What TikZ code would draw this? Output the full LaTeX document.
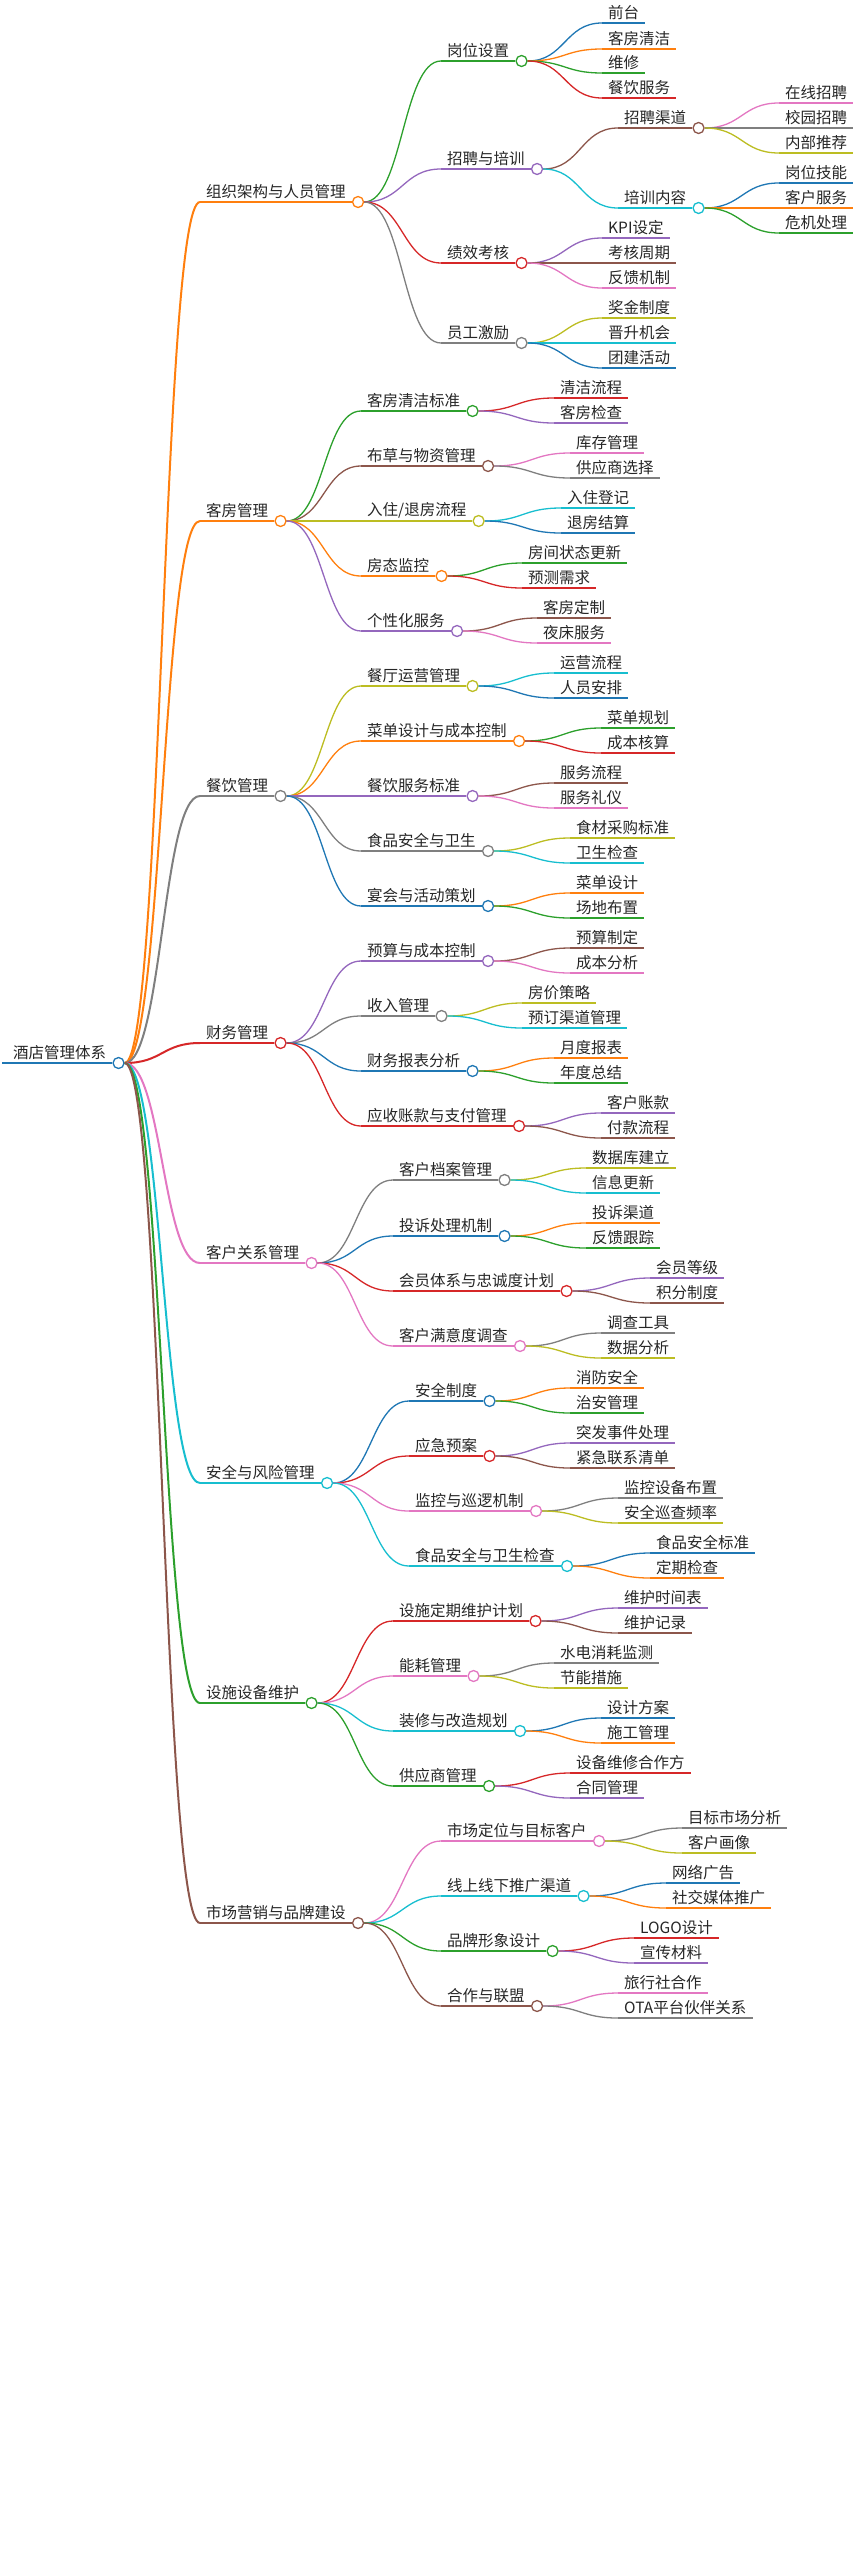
\documentclass[tikz,border=0pt]{standalone}
\usepackage{fontspec}
\newfontfamily\cjk{Noto Sans CJK SC}
\usetikzlibrary{calc,positioning}
\definecolor{mmblue}{HTML}{1F77B4}
\definecolor{mmorange}{HTML}{FF7F0E}
\definecolor{mmgreen}{HTML}{2CA02C}
\definecolor{mmred}{HTML}{D62728}
\definecolor{mmpurple}{HTML}{9467BD}
\definecolor{mmbrown}{HTML}{8C564B}
\definecolor{mmpink}{HTML}{E377C2}
\definecolor{mmgray}{HTML}{7F7F7F}
\definecolor{mmolive}{HTML}{BCBD22}
\definecolor{mmcyan}{HTML}{17BECF}
\tikzset{
  lbl/.style={anchor=south west, inner xsep=6pt, inner ysep=3pt, text=black!85, font=\cjk\fontsize{15.5}{18}\selectfont},
  knob/.style={circle, draw, fill=white, minimum size=11pt, inner sep=0pt, line width=1.3pt},
  edge/.style={line width=1.3pt}
}
% #1 name, #2 parent, #3 text x, #4 y, #5 colour, #6 text
\newcommand{\mmcurve}[4]{%
  \coordinate (mid) at ($(#1c.east)!0.5!(#2.south west)$);
  \draw[#3, #4] (#1c.east) .. controls (mid |- #1c.east) and (mid |- #2.south west) .. (#2.south west);}
\newcommand{\leaf}[6]{%
  \node[lbl] (#1) at (#3-6,#4) {#6};
  \draw[#5, edge] (#1.south west) -- (#1.south east);
  \mmcurve{#2}{#1}{#5}{edge}}
\newcommand{\branch}[6]{%
  \node[lbl] (#1) at (#3-6,#4) {#6};
  \draw[#5, edge] (#1.south west) -- (#1.south east);
  \node[knob, draw=#5, right=0pt of #1.south east, anchor=west] (#1c) {};
  \mmcurve{#2}{#1}{#5}{edge}}
\begin{document}
\begin{tikzpicture}[x=1pt,y=-1pt]
\useasboundingbox (0,0) rectangle (864,2564);
% root
\node[lbl] (root) at (7,1063) {酒店管理体系};
\draw[mmblue, line width=2.6pt] (2,1063) -- (root.south east);
\node[knob, draw=mmblue, right=0pt of root.south east, anchor=west] (rootc) {};
\begin{scope}[edge/.style={line width=2pt}]
\branch{org}{root}{206}{202}{mmorange}{组织架构与人员管理}
\branch{room}{root}{206}{521}{mmorange}{客房管理}
\branch{food}{root}{206}{796}{mmgray}{餐饮管理}
\branch{fin}{root}{206}{1043}{mmred}{财务管理}
\branch{crm}{root}{206}{1263}{mmpink}{客户关系管理}
\branch{safe}{root}{206}{1483}{mmcyan}{安全与风险管理}
\branch{fac}{root}{206}{1703}{mmgreen}{设施设备维护}
\branch{mkt}{root}{206}{1923}{mmbrown}{市场营销与品牌建设}
\end{scope}
% 组织架构与人员管理
\branch{org_post}{org}{447}{61}{mmgreen}{岗位设置}
\leaf{org_post1}{org_post}{608}{23}{mmblue}{前台}
\leaf{org_post2}{org_post}{608}{49}{mmorange}{客房清洁}
\leaf{org_post3}{org_post}{608}{73}{mmgreen}{维修}
\leaf{org_post4}{org_post}{608}{98}{mmred}{餐饮服务}
\branch{org_hire}{org}{447}{169}{mmpurple}{招聘与培训}
\branch{org_chan}{org_hire}{624}{128}{mmbrown}{招聘渠道}
\leaf{org_chan1}{org_chan}{785}{103}{mmpink}{在线招聘}
\leaf{org_chan2}{org_chan}{785}{128}{mmgray}{校园招聘}
\leaf{org_chan3}{org_chan}{785}{153}{mmolive}{内部推荐}
\branch{org_train}{org_hire}{624}{208}{mmcyan}{培训内容}
\leaf{org_train1}{org_train}{785}{183}{mmblue}{岗位技能}
\leaf{org_train2}{org_train}{785}{208}{mmorange}{客户服务}
\leaf{org_train3}{org_train}{785}{233}{mmgreen}{危机处理}
\branch{org_kpi}{org}{447}{263}{mmred}{绩效考核}
\leaf{org_kpi1}{org_kpi}{608}{238}{mmpurple}{KPI设定}
\leaf{org_kpi2}{org_kpi}{608}{263}{mmbrown}{考核周期}
\leaf{org_kpi3}{org_kpi}{608}{288}{mmpink}{反馈机制}
\branch{org_mot}{org}{447}{343}{mmgray}{员工激励}
\leaf{org_mot1}{org_mot}{608}{318}{mmolive}{奖金制度}
\leaf{org_mot2}{org_mot}{608}{343}{mmcyan}{晋升机会}
\leaf{org_mot3}{org_mot}{608}{368}{mmblue}{团建活动}
% 客房管理
\branch{room_clean}{room}{367}{411}{mmgreen}{客房清洁标准}
\leaf{room_clean1}{room_clean}{560}{398}{mmred}{清洁流程}
\leaf{room_clean2}{room_clean}{560}{423}{mmpurple}{客房检查}
\branch{room_linen}{room}{367}{466}{mmbrown}{布草与物资管理}
\leaf{room_linen1}{room_linen}{576}{453}{mmpink}{库存管理}
\leaf{room_linen2}{room_linen}{576}{478}{mmgray}{供应商选择}
\branch{room_check}{room}{367}{521}{mmolive}{入住/退房流程}
\leaf{room_check1}{room_check}{567}{508}{mmcyan}{入住登记}
\leaf{room_check2}{room_check}{567}{533}{mmblue}{退房结算}
\branch{room_state}{room}{367}{576}{mmorange}{房态监控}
\leaf{room_state1}{room_state}{528}{563}{mmgreen}{房间状态更新}
\leaf{room_state2}{room_state}{528}{588}{mmred}{预测需求}
\branch{room_pers}{room}{367}{631}{mmpurple}{个性化服务}
\leaf{room_pers1}{room_pers}{543}{618}{mmbrown}{客房定制}
\leaf{room_pers2}{room_pers}{543}{643}{mmpink}{夜床服务}
% 餐饮管理
\branch{food_run}{food}{367}{686}{mmolive}{餐厅运营管理}
\leaf{food_run1}{food_run}{560}{673}{mmcyan}{运营流程}
\leaf{food_run2}{food_run}{560}{698}{mmblue}{人员安排}
\branch{food_menu}{food}{367}{741}{mmorange}{菜单设计与成本控制}
\leaf{food_menu1}{food_menu}{607}{728}{mmgreen}{菜单规划}
\leaf{food_menu2}{food_menu}{607}{753}{mmred}{成本核算}
\branch{food_serv}{food}{367}{796}{mmpurple}{餐饮服务标准}
\leaf{food_serv1}{food_serv}{560}{783}{mmbrown}{服务流程}
\leaf{food_serv2}{food_serv}{560}{808}{mmpink}{服务礼仪}
\branch{food_safe}{food}{367}{851}{mmgray}{食品安全与卫生}
\leaf{food_safe1}{food_safe}{576}{838}{mmolive}{食材采购标准}
\leaf{food_safe2}{food_safe}{576}{863}{mmcyan}{卫生检查}
\branch{food_fest}{food}{367}{906}{mmblue}{宴会与活动策划}
\leaf{food_fest1}{food_fest}{576}{893}{mmorange}{菜单设计}
\leaf{food_fest2}{food_fest}{576}{918}{mmgreen}{场地布置}
% 财务管理
\branch{fin_bud}{fin}{367}{961}{mmpurple}{预算与成本控制}
\leaf{fin_bud1}{fin_bud}{576}{948}{mmbrown}{预算制定}
\leaf{fin_bud2}{fin_bud}{576}{973}{mmpink}{成本分析}
\branch{fin_rev}{fin}{367}{1016}{mmgray}{收入管理}
\leaf{fin_rev1}{fin_rev}{528}{1003}{mmolive}{房价策略}
\leaf{fin_rev2}{fin_rev}{528}{1028}{mmcyan}{预订渠道管理}
\branch{fin_rep}{fin}{367}{1071}{mmblue}{财务报表分析}
\leaf{fin_rep1}{fin_rep}{560}{1058}{mmorange}{月度报表}
\leaf{fin_rep2}{fin_rep}{560}{1083}{mmgreen}{年度总结}
\branch{fin_pay}{fin}{367}{1126}{mmred}{应收账款与支付管理}
\leaf{fin_pay1}{fin_pay}{607}{1113}{mmpurple}{客户账款}
\leaf{fin_pay2}{fin_pay}{607}{1138}{mmbrown}{付款流程}
% 客户关系管理
\branch{crm_file}{crm}{399}{1180}{mmgray}{客户档案管理}
\leaf{crm_file1}{crm_file}{592}{1168}{mmolive}{数据库建立}
\leaf{crm_file2}{crm_file}{592}{1193}{mmcyan}{信息更新}
\branch{crm_comp}{crm}{399}{1236}{mmblue}{投诉处理机制}
\leaf{crm_comp1}{crm_comp}{592}{1223}{mmorange}{投诉渠道}
\leaf{crm_comp2}{crm_comp}{592}{1248}{mmgreen}{反馈跟踪}
\branch{crm_vip}{crm}{399}{1291}{mmred}{会员体系与忠诚度计划}
\leaf{crm_vip1}{crm_vip}{656}{1278}{mmpurple}{会员等级}
\leaf{crm_vip2}{crm_vip}{656}{1303}{mmbrown}{积分制度}
\branch{crm_sat}{crm}{399}{1346}{mmpink}{客户满意度调查}
\leaf{crm_sat1}{crm_sat}{607}{1333}{mmgray}{调查工具}
\leaf{crm_sat2}{crm_sat}{607}{1358}{mmolive}{数据分析}
% 安全与风险管理
\branch{safe_rule}{safe}{415}{1401}{mmblue}{安全制度}
\leaf{safe_rule1}{safe_rule}{576}{1388}{mmorange}{消防安全}
\leaf{safe_rule2}{safe_rule}{576}{1413}{mmgreen}{治安管理}
\branch{safe_emg}{safe}{415}{1456}{mmred}{应急预案}
\leaf{safe_emg1}{safe_emg}{576}{1443}{mmpurple}{突发事件处理}
\leaf{safe_emg2}{safe_emg}{576}{1468}{mmbrown}{紧急联系清单}
\branch{safe_mon}{safe}{415}{1511}{mmpink}{监控与巡逻机制}
\leaf{safe_mon1}{safe_mon}{624}{1498}{mmgray}{监控设备布置}
\leaf{safe_mon2}{safe_mon}{624}{1523}{mmolive}{安全巡查频率}
\branch{safe_food}{safe}{415}{1566}{mmcyan}{食品安全与卫生检查}
\leaf{safe_food1}{safe_food}{656}{1553}{mmblue}{食品安全标准}
\leaf{safe_food2}{safe_food}{656}{1578}{mmorange}{定期检查}
% 设施设备维护
\branch{fac_plan}{fac}{399}{1621}{mmred}{设施定期维护计划}
\leaf{fac_plan1}{fac_plan}{624}{1608}{mmpurple}{维护时间表}
\leaf{fac_plan2}{fac_plan}{624}{1633}{mmbrown}{维护记录}
\branch{fac_energy}{fac}{399}{1676}{mmpink}{能耗管理}
\leaf{fac_energy1}{fac_energy}{560}{1663}{mmgray}{水电消耗监测}
\leaf{fac_energy2}{fac_energy}{560}{1688}{mmolive}{节能措施}
\branch{fac_reno}{fac}{399}{1731}{mmcyan}{装修与改造规划}
\leaf{fac_reno1}{fac_reno}{607}{1718}{mmblue}{设计方案}
\leaf{fac_reno2}{fac_reno}{607}{1743}{mmorange}{施工管理}
\branch{fac_sup}{fac}{399}{1786}{mmgreen}{供应商管理}
\leaf{fac_sup1}{fac_sup}{576}{1773}{mmred}{设备维修合作方}
\leaf{fac_sup2}{fac_sup}{576}{1798}{mmpurple}{合同管理}
% 市场营销与品牌建设
\branch{mkt_pos}{mkt}{447}{1841}{mmpink}{市场定位与目标客户}
\leaf{mkt_pos1}{mkt_pos}{688}{1828}{mmgray}{目标市场分析}
\leaf{mkt_pos2}{mkt_pos}{688}{1853}{mmolive}{客户画像}
\branch{mkt_ch}{mkt}{447}{1896}{mmcyan}{线上线下推广渠道}
\leaf{mkt_ch1}{mkt_ch}{672}{1883}{mmblue}{网络广告}
\leaf{mkt_ch2}{mkt_ch}{672}{1908}{mmorange}{社交媒体推广}
\branch{mkt_img}{mkt}{447}{1951}{mmgreen}{品牌形象设计}
\leaf{mkt_img1}{mkt_img}{640}{1938}{mmred}{LOGO设计}
\leaf{mkt_img2}{mkt_img}{640}{1963}{mmpurple}{宣传材料}
\branch{mkt_ally}{mkt}{447}{2006}{mmbrown}{合作与联盟}
\leaf{mkt_ally1}{mkt_ally}{624}{1993}{mmpink}{旅行社合作}
\leaf{mkt_ally2}{mkt_ally}{624}{2018}{mmgray}{OTA平台伙伴关系}
\end{tikzpicture}
\end{document}
